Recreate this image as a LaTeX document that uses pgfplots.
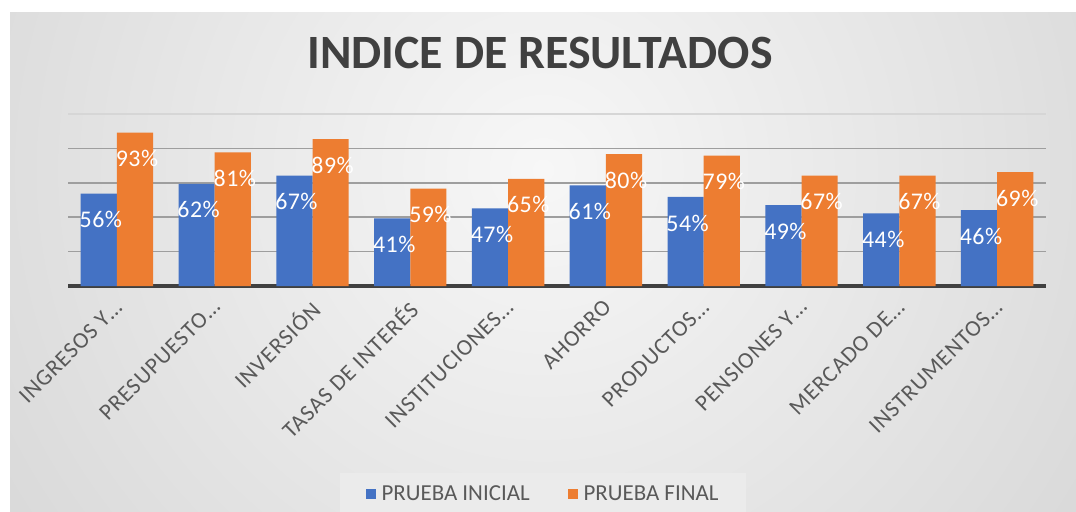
\documentclass[border=0pt]{standalone}
\usepackage{pgfplots}
\usepackage{pgfplotstable}
\pgfplotsset{compat=1.18}
\usepackage{fontspec}
\setmainfont{Carlito}
\definecolor{cblue}{HTML}{4472C4}
\definecolor{corange}{HTML}{ED7D31}
\definecolor{ctitle}{HTML}{404040}
\definecolor{clabel}{HTML}{595959}
\definecolor{bgA}{HTML}{F7F7F7}
\definecolor{bgD}{HTML}{C4C4C4}
\pgfplotstableread{
x a b
0 56 93
1 62 81
2 67 89
3 41 59
4 47 65
5 61 80
6 54 79
7 49 67
8 44 67
9 46 69
}\data
\begin{document}
\begin{tikzpicture}
\useasboundingbox (0bp,0bp) rectangle (1076bp,512bp);
\clip (0bp,0bp) rectangle (1076bp,512bp);
\fill[white] (0bp,0bp) rectangle (1076bp,512bp);
\begin{scope}
\clip (10bp,-2bp) rectangle (1076bp,499bp);
\shade[inner color=bgA, outer color=bgD] (543bp,342bp) circle (1100bp);
\end{scope}
\node[font=\fontsize{48}{52}\selectfont\bfseries, text=ctitle] at (540bp,459bp) {INDICE DE RESULTADOS};
\begin{axis}[
  at={(68bp,226bp)}, anchor=south west,
  scale only axis, width=978bp, height=172bp,
  xmin=-0.5, xmax=9.5, ymin=0, ymax=104.3,
  ybar, bar width=0.37,
  xtick={0,...,9},
  xticklabels={INGRESOS Y…,PRESUPUESTO…,INVERSIÓN,TASAS DE INTERÉS,INSTITUCIONES…,AHORRO,PRODUCTOS…,PENSIONES Y…,MERCADO DE…,INSTRUMENTOS…},
  xticklabel style={xshift=-4bp, yshift=-12bp, rotate=45, anchor=north east, inner sep=0pt, font=\fontsize{23}{26}\selectfont\addfontfeatures{LetterSpace=4}, text=clabel},
  ytick={20.86,41.72,62.58,83.44}, yticklabels={},
  ymajorgrids, grid style={line width=1.5bp, color=black!38},
  extra y ticks={0}, extra y tick labels={},
  extra y tick style={grid style={line width=3bp, color=black!75}},
  axis line style={draw=none}, major tick length=0pt,
  point meta=explicit symbolic,
  nodes near coords={\pgfplotspointmeta\%},
  every node near coord/.append style={font=\fontsize{24}{26}\selectfont\addfontfeatures{LetterSpace=2}, text=white, anchor=center, yshift=-26bp, xshift=2bp},
  clip=false,
  legend style={at={(axis description cs:0.4857,-1.21)}, anchor=center, legend columns=2, fill=black!8, draw=none, font=\fontsize{23}{26}\selectfont, text=clabel, inner xsep=26bp, inner ysep=11bp, /tikz/every even column/.append style={column sep=36bp}},
  legend image code/.code={\fill (0bp,-5bp) rectangle (10bp,5bp); \path (14bp,0bp);},
]
\draw[black!16, line width=1.5bp] (rel axis cs:0,1) -- (rel axis cs:1,1);
\addplot[fill=cblue, draw=none, bar shift=-0.185] table[x=x,y=a,meta=a]{\data};
\addplot[fill=corange, draw=none, bar shift=0.185] table[x=x,y=b,meta=b]{\data};
\legend{PRUEBA INICIAL,PRUEBA FINAL}
\end{axis}
\end{tikzpicture}
\end{document}
